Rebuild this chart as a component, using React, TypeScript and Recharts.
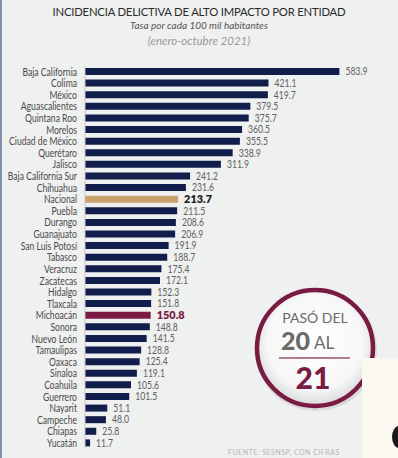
import React from 'react';
import { BarChart, Bar, XAxis, YAxis, Cell, LabelList } from 'recharts';

const states = [
  'Baja California', 'Colima', 'México', 'Aguascalientes', 'Quintana Roo', 'Morelos',
  'Ciudad de México', 'Querétaro', 'Jalisco', 'Baja California Sur', 'Chihuahua', 'Nacional',
  'Puebla', 'Durango', 'Guanajuato', 'San Luis Potosí', 'Tabasco', 'Veracruz', 'Zacatecas',
  'Hidalgo', 'Tlaxcala', 'Michoacán', 'Sonora', 'Nuevo León', 'Tamaulipas', 'Oaxaca',
  'Sinaloa', 'Coahuila', 'Guerrero', 'Nayarit', 'Campeche', 'Chiapas', 'Yucatán',
];

const rates = [
  583.9, 421.1, 419.7, 379.5, 375.7, 360.5, 355.5, 338.9, 311.9, 241.2, 231.6, 213.7,
  211.5, 208.6, 206.9, 191.9, 188.7, 175.4, 172.1, 152.3, 151.8, 150.8, 148.8, 141.5,
  128.8, 125.4, 119.1, 105.6, 101.5, 51.1, 48.0, 25.8, 11.7,
];

const NAVY = '#111d4a';
const GOLD = '#c8a26c';
const MAROON = '#7a1b44';

const data = states.map((name, i) => ({ name, value: rates[i] }));

const barColor = (name: string) =>
  name === 'Nacional' ? GOLD : name === 'Michoacán' ? MAROON : NAVY;

const FONT = 'Lato, "Open Sans", sans-serif';
const SQUEEZE = 0.82; // the source font is narrower than anything installed

function ValueLabel(props: any) {
  const { x, y, width, height, value, index } = props;
  const name = states[index];
  const special = name === 'Nacional' || name === 'Michoacán';
  const fill = name === 'Nacional' ? '#222' : name === 'Michoacán' ? MAROON : '#606060';
  return (
    <text
      transform={`translate(${x + width + 6},${y + height / 2}) scale(${special ? 0.95 : SQUEEZE},1)`}
      dy="0.36em"
      fontSize={special ? 11.5 : 10.5}
      fontWeight={special ? 800 : 400}
      fill={fill}
      fontFamily={FONT}
    >
      {Number(value).toFixed(1)}
    </text>
  );
}

function StateTick(props: any) {
  const { x, y, payload } = props;
  return (
    <text
      transform={`translate(${x},${y}) scale(${SQUEEZE},1)`}
      dy="0.36em"
      textAnchor="end"
      fontSize={10.5}
      fill="#4a4a4a"
      fontFamily={FONT}
    >
      {payload.value}
    </text>
  );
}

function Badge() {
  return (
    <svg width={130} height={130} style={{ position: 'absolute', left: 250, top: 283 }}>
      <defs>
        <radialGradient id="badgeFill" cx="50%" cy="45%" r="55%">
          <stop offset="0%" stopColor="#ffffff" />
          <stop offset="75%" stopColor="#f7f7f7" />
          <stop offset="100%" stopColor="#d9d9d9" />
        </radialGradient>
      </defs>
      <circle cx={66} cy={67} r={61} fill="#c4c4c4" opacity={0.5} />
      <circle cx={65} cy={65} r={58} fill="url(#badgeFill)" stroke={MAROON} strokeWidth={4.5} />
      <text x={65} y={40} textAnchor="middle" fontSize={14} fill="#6a6a6a" fontFamily={FONT}>
        PASÓ DEL
      </text>
      <text x={60} y={67} textAnchor="end" fontSize={25} fontWeight={900} fill="#6a6a6a" fontFamily={FONT}>
        20
      </text>
      <text x={64} y={66} fontSize={17} fill="#6a6a6a" fontFamily={FONT}>
        AL
      </text>
      <line x1={29} y1={75} x2={100} y2={75} stroke="#b07a92" strokeWidth={2} />
      <text x={63} y={106} textAnchor="middle" fontSize={30} fontWeight={900} fill={MAROON} fontFamily={FONT}>
        21
      </text>
    </svg>
  );
}

export default function App() {
  return (
    <div
      style={{
        position: 'absolute',
        left: 0,
        top: 0,
        width: 398,
        height: 458,
        background: '#eff0f0',
        overflow: 'hidden',
        fontFamily: FONT,
      }}
    >
      <div style={{ position: 'absolute', left: 0, top: 0, width: 2, height: 458, background: '#7f90ad' }} />
      <div
        style={{
          position: 'absolute', top: 5, left: 0, width: 398, textAlign: 'center',
          fontSize: 11.3, color: '#2a2a2a', letterSpacing: -0.2,
        }}
      >
        INCIDENCIA DELICTIVA DE ALTO IMPACTO POR ENTIDAD
      </div>
      <div
        style={{
          position: 'absolute', top: 19, left: 0, width: 398, textAlign: 'center',
          fontSize: 10, fontStyle: 'italic', color: '#555',
        }}
      >
        Tasa por cada 100 mil habitantes
      </div>
      <div
        style={{
          position: 'absolute', top: 34, left: 0, width: 398, textAlign: 'center',
          fontSize: 11.5, fontStyle: 'italic', color: '#9a9a9a',
        }}
      >
        (enero-octubre 2021)
      </div>
      <div style={{ position: 'absolute', left: 0, top: 0 }}>
        <BarChart
          width={398}
          height={458}
          data={data}
          layout="vertical"
          margin={{ top: 66, right: 8, bottom: 9, left: 0 }}
          barCategoryGap={0}
        >
          <XAxis type="number" domain={[0, 700]} hide />
          <YAxis
            type="category"
            dataKey="name"
            width={85}
            interval={0}
            tickLine={false}
            axisLine={{ stroke: '#c9c9c9' }}
            tick={<StateTick />}
          />
          <Bar dataKey="value" barSize={7} isAnimationActive={false}>
            {data.map((d) => (
              <Cell key={d.name} fill={barColor(d.name)} />
            ))}
            <LabelList dataKey="value" content={<ValueLabel />} />
          </Bar>
        </BarChart>
      </div>
      <Badge />
      <div
        style={{
          position: 'absolute', left: 362, top: 358, width: 36, height: 100,
          background: '#fbf8f2',
        }}
      >
        <div
          style={{
            position: 'absolute', left: 30, top: 68, width: 14, height: 22,
            borderRadius: '50%', background: '#1a1a1a',
          }}
        />
      </div>
      <div
        style={{
          position: 'absolute', left: 228, top: 448, fontSize: 7, lineHeight: '9px',
          color: '#b5b5b5', letterSpacing: 0.5,
        }}
      >
        FUENTE: SESNSP, CON CIFRAS
      </div>
    </div>
  );
}
